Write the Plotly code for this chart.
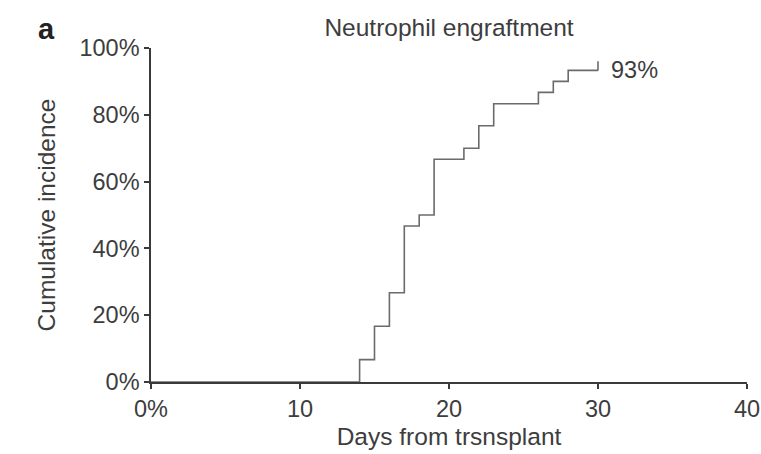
import plotly.graph_objects as go

# Cumulative incidence of neutrophil engraftment (step function)
days = [0, 14, 15, 16, 17, 18, 19, 21, 22, 23, 26, 27, 28, 30]
incidence_pct = [0, 6.7, 16.7, 26.7, 46.7, 50.0, 66.7, 70.0, 76.7, 83.3, 86.7, 90.0, 93.3, 93.3]

x_tick_vals = [0, 10, 20, 30, 40]
x_tick_text = ["0%", "10", "20", "30", "40"]
y_tick_vals = [0, 20, 40, 60, 80, 100]
y_tick_text = ["0%", "20%", "40%", "60%", "80%", "100%"]

FONT = "Liberation Sans, Arial, sans-serif"
TEXT = "#3d3d3d"
AXIS = "#3a3a3a"
CURVE = "#6b6b6b"
CENSOR_TICK = 2.7  # height of the censoring mark, in percent units
TICK_SIZE = 23.5
TITLE_SIZE = 24.5

final_day = days[-1]
final_val = incidence_pct[-1]

fig = go.Figure()
fig.add_trace(go.Scatter(
    x=days, y=incidence_pct, mode="lines", line_shape="hv",
    line=dict(color=CURVE, width=1.6), showlegend=False, hoverinfo="skip",
))
# censoring mark at the end of follow-up
fig.add_trace(go.Scatter(
    x=[final_day, final_day], y=[final_val, final_val + CENSOR_TICK], mode="lines",
    line=dict(color=CURVE, width=1.6), showlegend=False, hoverinfo="skip",
))

fig.add_annotation(
    x=final_day, y=final_val, xref="x", yref="y",
    text=f"{final_val:.0f}%", showarrow=False, xanchor="left", yanchor="middle",
    xshift=11, font=dict(family=FONT, size=TICK_SIZE, color=TEXT),
)
fig.add_annotation(
    x=(46 - 151) / 596, y=(382 - 29) / 334, xref="paper", yref="paper",
    text="<b>a</b>", showarrow=False, xanchor="center", yanchor="middle",
    font=dict(family=FONT, size=29, color="#222222"),
)

axis_common = dict(
    showline=True, linecolor=AXIS, linewidth=1.5,
    ticks="outside", ticklen=5, tickwidth=1.5, tickcolor=AXIS,
    showgrid=False, zeroline=False, automargin=False,
    tickfont=dict(family=FONT, size=TICK_SIZE, color=TEXT),
)

fig.update_layout(
    width=761, height=454,
    margin=dict(l=151, r=14, t=48, b=72),
    paper_bgcolor="white", plot_bgcolor="white",
    title=dict(
        text="Neutrophil engraftment", x=0.5, xref="paper",
        y=1 - 27 / 454, yref="container", yanchor="middle", xanchor="center",
        font=dict(family=FONT, size=TITLE_SIZE, color=TEXT),
    ),
    xaxis=dict(
        range=[0, 40], tickvals=x_tick_vals, ticktext=x_tick_text,
        title=dict(text="Days from trsnsplant", standoff=7,
                   font=dict(family=FONT, size=TITLE_SIZE, color=TEXT)),
        **axis_common,
    ),
    yaxis=dict(
        range=[0, 100], tickvals=y_tick_vals, ticktext=y_tick_text,
        title=dict(text="Cumulative incidence", standoff=17,
                   font=dict(family=FONT, size=TITLE_SIZE, color=TEXT)),
        **axis_common,
    ),
)

fig.write_html("out.html")
